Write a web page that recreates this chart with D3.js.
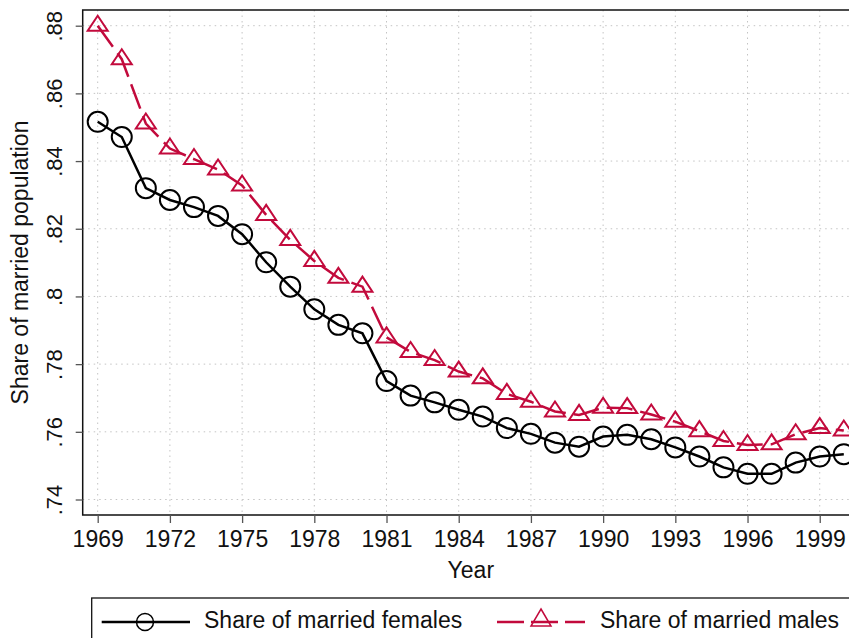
<!DOCTYPE html>
<html>
<head>
<meta charset="utf-8">
<script src="https://cdn.jsdelivr.net/npm/d3@7"></script>
<style>
  body { margin: 0; background: #fff; }
  svg { display: block; font-family: "Liberation Sans", Arial, sans-serif; }
</style>
</head>
<body>
<svg id="chart"></svg>
<script>
// data
var years = [1969, 1970, 1971, 1972, 1973, 1974, 1975, 1976, 1977, 1978, 1979,
  1980, 1981, 1982, 1983, 1984, 1985, 1986, 1987, 1988, 1989, 1990,
  1991, 1992, 1993, 1994, 1995, 1996, 1997, 1998, 1999, 2000];

var females = [0.8516, 0.8471, 0.8320, 0.8285, 0.8264, 0.8238, 0.8184, 0.8101,
  0.8029, 0.7962, 0.7916, 0.7891, 0.7750, 0.7707, 0.7687, 0.7665, 0.7645,
  0.7611, 0.7594, 0.7568, 0.7556, 0.7586, 0.7591, 0.7578, 0.7554, 0.7527,
  0.7495, 0.7476, 0.7476, 0.7509, 0.7527, 0.7534];

var males = [0.8800, 0.8701, 0.8511, 0.8437, 0.8406, 0.8375, 0.8328, 0.8241,
  0.8167, 0.8105, 0.8055, 0.8029, 0.7879, 0.7836, 0.7812, 0.7778, 0.7758,
  0.7712, 0.7689, 0.7660, 0.7650, 0.7671, 0.7670, 0.7651, 0.7630, 0.7602,
  0.7573, 0.7561, 0.7563, 0.7593, 0.7611, 0.7604];

var xTicks = [1969, 1972, 1975, 1978, 1981, 1984, 1987, 1990, 1993, 1996, 1999];
var yTicks = [0.74, 0.76, 0.78, 0.80, 0.82, 0.84, 0.86, 0.88];
var yTickLabels = [".74", ".76", ".78", ".8", ".82", ".84", ".86", ".88"];

var seriesNames = ["Share of married females", "Share of married males"];

var width = 849, height = 638;
var red = "#c20a3c";

// plot region (runs past the right edge, like the reference)
var plot = { left: 82.7, right: 859, top: 10, bottom: 515 };

var svg = d3.select("#chart").attr("width", width).attr("height", height);

var x = d3.scaleLinear().domain([1969, 2000]).range([97.7, 843.8]);
var y = d3.scaleLinear().domain([0.74, 0.88]).range([499.5, 25.7]);

// dotted grid
var grid = svg.append("g")
  .attr("stroke", "#c4c4c4")
  .attr("stroke-width", 1)
  .attr("stroke-dasharray", "1.5,4");
grid.selectAll("line.gy")
  .data(yTicks)
  .enter()
  .append("line")
  .attr("x1", plot.left).attr("x2", plot.right)
  .attr("y1", function (d) { return y(d); })
  .attr("y2", function (d) { return y(d); });
grid.selectAll("line.gx")
  .data(xTicks)
  .enter()
  .append("line")
  .attr("y1", plot.top).attr("y2", plot.bottom)
  .attr("x1", function (d) { return x(d); })
  .attr("x2", function (d) { return x(d); });

// frame: top, left, bottom
svg.append("path")
  .attr("d", "M" + plot.right + "," + plot.top + "H" + plot.left + "V" + plot.bottom + "H" + plot.right)
  .attr("fill", "none")
  .attr("stroke", "#111")
  .attr("stroke-width", 1.5);

// X axis
var xAxis = svg.append("g")
  .attr("transform", "translate(0," + plot.bottom + ")")
  .call(d3.axisBottom(x).tickValues(xTicks).tickFormat(d3.format("d")).tickSize(8).tickPadding(8));
xAxis.select(".domain").remove();
xAxis.selectAll(".tick line").attr("stroke", "#555").attr("stroke-width", 1.3);
xAxis.selectAll(".tick text")
  .attr("fill", "#111")
  .style("font-size", "23px")
  .style("font-family", "'Liberation Sans', Arial, sans-serif");

// Y axis, rotated labels
var yAxis = svg.append("g")
  .attr("transform", "translate(" + plot.left + ",0)")
  .call(d3.axisLeft(y).tickValues(yTicks).tickSize(7).tickFormat(function (d, i) { return yTickLabels[i]; }));
yAxis.select(".domain").remove();
yAxis.selectAll(".tick line").attr("stroke", "#555").attr("stroke-width", 1.3);
yAxis.selectAll(".tick text")
  .attr("x", null).attr("dy", null)
  .attr("transform", "translate(-21,0) rotate(-90)")
  .attr("text-anchor", "middle")
  .attr("fill", "#111")
  .style("font-size", "22px")
  .style("font-family", "'Liberation Sans', Arial, sans-serif");

// axis titles
svg.append("text")
  .attr("x", (plot.left + plot.right) / 2)
  .attr("y", 578)
  .attr("text-anchor", "middle")
  .style("font-size", "23px")
  .attr("fill", "#111")
  .text("Year");
svg.append("text")
  .attr("transform", "translate(28," + (plot.top + plot.bottom) / 2 + ") rotate(-90)")
  .attr("text-anchor", "middle")
  .style("font-size", "23px")
  .attr("fill", "#111")
  .text("Share of married population");

// lines
var lineF = d3.line()
  .x(function (d, i) { return x(years[i]); })
  .y(function (d) { return y(d); });

svg.append("path")
  .datum(males)
  .attr("d", lineF)
  .attr("fill", "none")
  .attr("stroke", red)
  .attr("stroke-width", 2.5)
  .attr("stroke-dasharray", "26,8");

svg.append("path")
  .datum(females)
  .attr("d", lineF)
  .attr("fill", "none")
  .attr("stroke", "#000")
  .attr("stroke-width", 2.5);

// markers
var tri = "M0,-10L10,5L-10,5Z";
svg.selectAll("path.tri")
  .data(males)
  .enter()
  .append("path")
  .attr("class", "tri")
  .attr("d", tri)
  .attr("transform", function (d, i) { return "translate(" + x(years[i]) + "," + y(d) + ")"; })
  .attr("fill", "none")
  .attr("stroke", red)
  .attr("stroke-width", 2);

svg.selectAll("circle.f")
  .data(females)
  .enter()
  .append("circle")
  .attr("class", "f")
  .attr("cx", function (d, i) { return x(years[i]); })
  .attr("cy", function (d) { return y(d); })
  .attr("r", 10)
  .attr("fill", "none")
  .attr("stroke", "#000")
  .attr("stroke-width", 2);

// legend
var legend = svg.append("g");
legend.append("rect")
  .attr("x", 91.7).attr("y", 598)
  .attr("width", 800).attr("height", 80)
  .attr("fill", "#fff")
  .attr("stroke", "#111")
  .attr("stroke-width", 1.3);

legend.append("line")
  .attr("x1", 101.7).attr("x2", 190).attr("y1", 622).attr("y2", 622)
  .attr("stroke", "#000").attr("stroke-width", 2.5);
legend.append("circle")
  .attr("cx", 145).attr("cy", 622).attr("r", 8.5)
  .attr("fill", "none").attr("stroke", "#000").attr("stroke-width", 1.5);
legend.append("text")
  .attr("x", 204).attr("y", 628)
  .style("font-size", "23px").attr("fill", "#111")
  .text(seriesNames[0]);

legend.append("line")
  .attr("x1", 497).attr("x2", 585).attr("y1", 622).attr("y2", 622)
  .attr("stroke", red).attr("stroke-width", 2.5)
  .attr("stroke-dasharray", "27,7");
legend.append("path")
  .attr("d", "M0,-12L10,5L-10,5Z")
  .attr("transform", "translate(541,621)")
  .attr("fill", "none").attr("stroke", red).attr("stroke-width", 1.5);
legend.append("text")
  .attr("x", 600).attr("y", 628)
  .style("font-size", "23px").attr("fill", "#111")
  .text(seriesNames[1]);
</script>
</body>
</html>
